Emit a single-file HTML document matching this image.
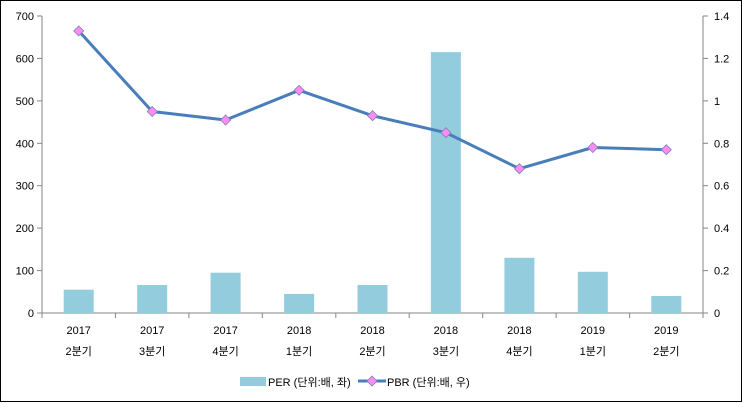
<!DOCTYPE html><html><head><meta charset="utf-8"><style>body{margin:0;background:#fff}svg{display:block}text{font-family:"Liberation Sans","Noto Sans CJK KR",sans-serif;font-size:11px;fill:#000}</style></head><body>
<svg width="743" height="403" viewBox="0 0 743 403" xmlns="http://www.w3.org/2000/svg">
<rect x="0.5" y="0.5" width="741" height="401" fill="#fff" stroke="#000"/>
<g stroke="#868686">
<line x1="42" x2="42" y1="16" y2="313"/><line x1="703" x2="703" y1="16" y2="313"/><line x1="42" x2="703" y1="313" y2="313"/>
<line x1="37" x2="42" y1="313" y2="313"/><line x1="37" x2="42" y1="270.6" y2="270.6"/><line x1="37" x2="42" y1="228.1" y2="228.1"/><line x1="37" x2="42" y1="185.7" y2="185.7"/><line x1="37" x2="42" y1="143.3" y2="143.3"/><line x1="37" x2="42" y1="100.9" y2="100.9"/><line x1="37" x2="42" y1="58.4" y2="58.4"/><line x1="37" x2="42" y1="16" y2="16"/>
<line x1="703" x2="708" y1="313" y2="313"/><line x1="703" x2="708" y1="270.6" y2="270.6"/><line x1="703" x2="708" y1="228.1" y2="228.1"/><line x1="703" x2="708" y1="185.7" y2="185.7"/><line x1="703" x2="708" y1="143.3" y2="143.3"/><line x1="703" x2="708" y1="100.9" y2="100.9"/><line x1="703" x2="708" y1="58.4" y2="58.4"/><line x1="703" x2="708" y1="16" y2="16"/>
<line x1="42" x2="42" y1="313" y2="318"/><line x1="115.4" x2="115.4" y1="313" y2="318"/><line x1="188.9" x2="188.9" y1="313" y2="318"/><line x1="262.3" x2="262.3" y1="313" y2="318"/><line x1="335.8" x2="335.8" y1="313" y2="318"/><line x1="409.2" x2="409.2" y1="313" y2="318"/><line x1="482.7" x2="482.7" y1="313" y2="318"/><line x1="556.1" x2="556.1" y1="313" y2="318"/><line x1="629.6" x2="629.6" y1="313" y2="318"/><line x1="703" x2="703" y1="313" y2="318"/>
</g>
<g text-anchor="end">
<text x="34" y="317">0</text><text x="34" y="274.6">100</text><text x="34" y="232.1">200</text><text x="34" y="189.7">300</text><text x="34" y="147.3">400</text><text x="34" y="104.9">500</text><text x="34" y="62.4">600</text><text x="34" y="20">700</text>
</g>
<g>
<text x="714" y="317">0</text><text x="714" y="274.6">0.2</text><text x="714" y="232.1">0.4</text><text x="714" y="189.7">0.6</text><text x="714" y="147.3">0.8</text><text x="714" y="104.9">1</text><text x="714" y="62.4">1.2</text><text x="714" y="20">1.4</text>
</g>
<g fill="#93CDDD">
<rect x="63.7" y="289.7" width="30" height="23.3"/>
<rect x="137.2" y="285" width="30" height="28"/>
<rect x="210.6" y="272.7" width="30" height="40.3"/>
<rect x="284.1" y="293.9" width="30" height="19.1"/>
<rect x="357.5" y="285" width="30" height="28"/>
<rect x="430.9" y="52.1" width="30" height="260.9"/>
<rect x="504.4" y="257.8" width="30" height="55.2"/>
<rect x="577.8" y="271.8" width="30" height="41.2"/>
<rect x="651.3" y="296" width="30" height="17"/>
</g>
<g text-anchor="middle">
<text x="78.7" y="334">2017</text><text x="152.2" y="334">2017</text><text x="225.6" y="334">2017</text><text x="299.1" y="334">2018</text><text x="372.5" y="334">2018</text><text x="445.9" y="334">2018</text><text x="519.4" y="334">2018</text><text x="592.8" y="334">2019</text><text x="666.3" y="334">2019</text>
<text x="78.7" y="355">2분기</text><text x="152.2" y="355">3분기</text><text x="225.6" y="355">4분기</text><text x="299.1" y="355">1분기</text><text x="372.5" y="355">2분기</text><text x="445.9" y="355">3분기</text><text x="519.4" y="355">4분기</text><text x="592.8" y="355">1분기</text><text x="666.3" y="355">2분기</text>
</g>
<polyline points="78.7,30.9 152.2,111.5 225.6,120 299.1,90.3 372.5,115.7 445.9,132.7 519.4,168.7 592.8,147.5 666.3,149.7" fill="none" stroke="#4A7EBB" stroke-width="3" stroke-linejoin="round"/>
<g fill="#FF8CF0" stroke="#7F7FC0" stroke-width="0.8">
<polygon points="78.7,25.9 83.7,30.9 78.7,35.9 73.7,30.9"/>
<polygon points="152.2,106.5 157.2,111.5 152.2,116.5 147.2,111.5"/>
<polygon points="225.6,115 230.6,120 225.6,125 220.6,120"/>
<polygon points="299.1,85.3 304.1,90.3 299.1,95.3 294.1,90.3"/>
<polygon points="372.5,110.7 377.5,115.7 372.5,120.7 367.5,115.7"/>
<polygon points="445.9,127.7 450.9,132.7 445.9,137.7 440.9,132.7"/>
<polygon points="519.4,163.7 524.4,168.7 519.4,173.7 514.4,168.7"/>
<polygon points="592.8,142.5 597.8,147.5 592.8,152.5 587.8,147.5"/>
<polygon points="666.3,144.7 671.3,149.7 666.3,154.7 661.3,149.7"/>
</g>
<rect x="240" y="377" width="26" height="9" fill="#93CDDD"/><text x="268" y="386">PER (단위:배, 좌)</text>
<line x1="358" x2="386" y1="381" y2="381" stroke="#4A7EBB" stroke-width="3"/><polygon points="372,376 377,381 372,386 367,381" fill="#FF8CF0" stroke="#7F7FC0" stroke-width="0.8"/><text x="387" y="386">PBR (단위:배, 우)</text>
</svg></body></html>
